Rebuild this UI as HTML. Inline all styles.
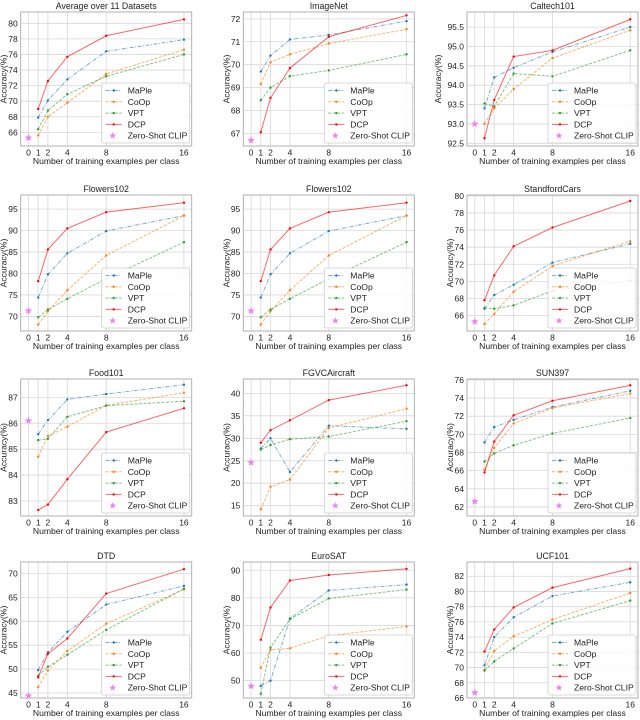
<!DOCTYPE html>
<html><head><meta charset="utf-8"><style>
html,body{margin:0;padding:0;background:#fff;}
svg{display:block;font-family:"Liberation Sans",sans-serif;}
</style></head><body>
<svg id="fig" width="640" height="720" viewBox="0 0 640 720"></svg>
<script>
const shots = [1,2,4,8,16];
const xTicks = [0,1,2,4,8,16];
const datasetNames = ["Average over 11 Datasets","ImageNet","Caltech101","Flowers102","Flowers102","StandfordCars","Food101","FGVCAircraft","SUN397","DTD","EuroSAT","UCF101"];
const mapleAcc = [
 [67.9,70.1,72.8,76.4,77.9],[69.7,70.4,71.1,71.3,71.9],[93.4,94.2,94.45,94.86,95.5],
 [74.4,79.8,84.7,89.9,93.5],[74.4,79.8,84.7,89.9,93.5],[66.8,68.4,69.6,72.2,74.4],
 [85.58,86.12,86.92,87.13,87.49],[27.7,30.0,22.5,32.8,32.1],[69.1,70.8,71.6,73.0,74.8],
 [49.8,53.5,57.8,63.5,67.4],[48.1,50.0,72.5,82.7,84.8],[70.3,74.0,76.6,79.4,81.2]];
const coopAcc = [
 [65.6,68.0,69.8,73.5,76.6],[69.15,70.1,70.45,70.92,71.55],[93.0,93.4,93.9,94.7,95.42],
 [68.1,71.2,76.1,84.2,93.5],[68.1,71.2,76.1,84.2,93.5],[65.0,66.2,68.8,71.8,74.7],
 [84.71,85.51,85.87,86.69,87.18],[14.2,19.2,20.8,32.3,36.6],[66.1,68.5,71.2,72.9,74.5],
 [46.2,49.7,53.8,59.5,66.7],[54.6,61.2,61.7,66.3,69.6],[69.7,72.2,74.1,76.3,79.8]];
const vptAcc = [
 [66.4,68.8,70.9,73.2,76.0],[68.45,69.0,69.5,69.75,70.45],[93.53,93.45,94.3,94.23,94.9],
 [69.8,71.6,74.1,78.8,87.3],[69.8,71.6,74.1,78.8,87.3],[66.9,66.8,67.2,68.9,70.1],
 [85.35,85.4,86.25,86.68,86.85],[27.5,28.5,29.8,30.4,33.8],[67.0,67.9,68.8,70.1,71.8],
 [48.6,50.5,53.0,58.2,66.8],[45.2,62.0,72.3,79.8,83.0],[69.6,70.8,72.5,75.8,78.8]];
const dcpAcc = [
 [69.0,72.6,75.7,78.4,80.5],[67.05,68.55,69.85,71.22,72.15],[92.63,93.62,94.74,94.9,95.7],
 [78.2,85.6,90.5,94.3,96.5],[78.2,85.6,90.5,94.3,96.5],[67.8,70.7,74.1,76.3,79.4],
 [82.65,82.86,83.84,85.66,86.58],[29.0,31.8,34.0,38.5,41.8],[65.8,69.2,72.1,73.7,75.4],
 [48.3,53.2,56.4,65.8,70.9],[64.8,76.5,86.3,88.3,90.5],[72.1,75.0,77.9,80.5,83.0]];
const zeroShotAcc = [65.3,66.7,93.0,71.3,71.3,65.3,86.1,24.6,62.6,44.4,48.0,66.7];
const yLimits = [[64.25,81.45],[66.45,72.3],[92.43,95.89],[66.6,98.3],[66.6,98.3],[64.2,80.1],
 [82.42,87.71],[12.7,43.2],[61.0,76.1],[43.96,72.4],[43.7,93.0],[66.0,83.87]];
const yTickLabels = [
 [66,68,70,72,74,76,78,80],[67,68,69,70,71,72],["92.5","93.0","93.5","94.0","94.5","95.0","95.5"],
 [70,75,80,85,90,95],[70,75,80,85,90,95],[66,68,70,72,74,76,78,80],
 [83,84,85,86,87],[15,20,25,30,35,40],[62,64,66,68,70,72,74,76],
 [45,50,55,60,65,70],[50,60,70,80,90],[66,68,70,72,74,76,78,80,82]];

const NS="http://www.w3.org/2000/svg";
const svg=document.getElementById('fig');
const colLeft=[20.7,243.3,467], rowTop=[12,195,379,562], rowH=[134,136,137,136], W=171;
const series=[
 {name:"MaPle",data:mapleAcc,color:"#1f77b4",dash:"4,1.5,1,1.5",op:0.6},
 {name:"CoOp",data:coopAcc,color:"#ff7f0e",dash:"3,1.5",op:0.6},
 {name:"VPT",data:vptAcc,color:"#2ca02c",dash:"3,1.5",op:0.6},
 {name:"DCP",data:dcpAcc,color:"#ff0000",dash:null,op:0.6}];
function mk(tag,attrs,parent){const e=document.createElementNS(NS,tag);for(const k in attrs)e.setAttribute(k,attrs[k]);(parent||svg).appendChild(e);return e;}
function starPts(cx,cy,r){let p=[];for(let i=0;i<10;i++){const a=-Math.PI/2+i*Math.PI/5;const rr=i%2?r*0.42:r;p.push((cx+rr*Math.cos(a)).toFixed(2)+","+(cy+rr*Math.sin(a)).toFixed(2));}return p.join(" ");}

datasetNames.forEach((title,i)=>{
 const L=colLeft[i%3], T=rowTop[Math.floor(i/3)], H=rowH[Math.floor(i/3)];
 const [y0,y1]=yLimits[i];
 const xs=v=>L+(v+0.8)/17.6*W;
 const ys=v=>T+H-(v-y0)/(y1-y0)*H;
 const g=mk('g',{});
 
 
 xTicks.forEach(t=>{const l=mk('line',{x1:xs(t),x2:xs(t),y1:T,y2:T+H,stroke:'#d8d8d8','stroke-width':0.8},g);
  
  const tx=mk('text',{x:xs(t),y:T+H+9.5,'font-size':8.5,'text-anchor':'middle',fill:'#222'},g);tx.textContent=t;
  });
 let maxLen=0;
 yTickLabels[i].forEach(t=>{const v=parseFloat(t);maxLen=Math.max(maxLen,String(t).length);
  const l=mk('line',{x1:L,x2:L+W,y1:ys(v),y2:ys(v),stroke:'#d8d8d8','stroke-width':0.8},g);
  
  const tx=mk('text',{x:L-3,y:ys(v)+3,'font-size':8.5,'text-anchor':'end',fill:'#222'},g);tx.textContent=t;
  });
 const fr=mk('rect',{x:L,y:T,width:W,height:H,fill:'none',stroke:'#aaa','stroke-width':0.9},g);
 
 const tt=mk('text',{x:L+W/2,y:T-3,'font-size':8.8,'text-anchor':'middle',fill:'#222'},g);tt.textContent=title;
 
 const xl=mk('text',{x:L+W/2,y:T+H+18,'font-size':8.6,'text-anchor':'middle',fill:'#222'},g);xl.textContent="Number of training examples per class";
 
 const yoff = maxLen>=4 ? 26 : 14;
 const yl=mk('text',{x:0,y:0,'font-size':8.6,'text-anchor':'middle',fill:'#222',transform:`translate(${L-yoff},${T+H/2}) rotate(-90)`},g);yl.textContent="Accuracy(%)";
 
 series.forEach(s=>{
  const vals=s.data[i];
  const pts=shots.map((x,k)=>xs(x).toFixed(2)+","+ys(vals[k]).toFixed(2)).join(" ");
  const a={points:pts,fill:'none',stroke:s.color,'stroke-width':1,'stroke-opacity':s.op};
  if(s.dash)a['stroke-dasharray']=s.dash;
  const pl=mk('polyline',a,g);
  
  shots.forEach((x,k)=>{const c=mk('circle',{cx:xs(x),cy:ys(vals[k]),r:1.2,fill:s.color},g);
   });
 });
 const st=mk('polygon',{points:starPts(xs(0),ys(zeroShotAcc[i]),4),fill:'#ee82ee'},g);
 
 const lx=L+W-90, ly=T+H-63;
 const lg=mk('g',{},g);
 
 mk('rect',{x:lx,y:ly,width:88,height:60,rx:2,fill:'#fff','fill-opacity':0.85,stroke:'#ccc','stroke-width':0.8},lg);
 const items=series.concat([{name:"Zero-Shot CLIP",star:true}]);
 items.forEach((s,k)=>{
  const yy=ly+7.5+k*11.3;
  if(s.star){mk('polygon',{points:starPts(lx+11,yy,3.6),fill:'#ee82ee'},lg);}
  else{const a={x1:lx+4,x2:lx+20,y1:yy,y2:yy,stroke:s.color,'stroke-width':1,'stroke-opacity':s.op};if(s.dash)a['stroke-dasharray']=s.dash;mk('line',a,lg);
   mk('circle',{cx:lx+12,cy:yy,r:1.2,fill:s.color},lg);}
  const t=mk('text',{x:lx+26,y:yy+3,'font-size':8.6,fill:'#222'},lg);t.textContent=s.name;
  
 });
});
</script>
</body></html>
